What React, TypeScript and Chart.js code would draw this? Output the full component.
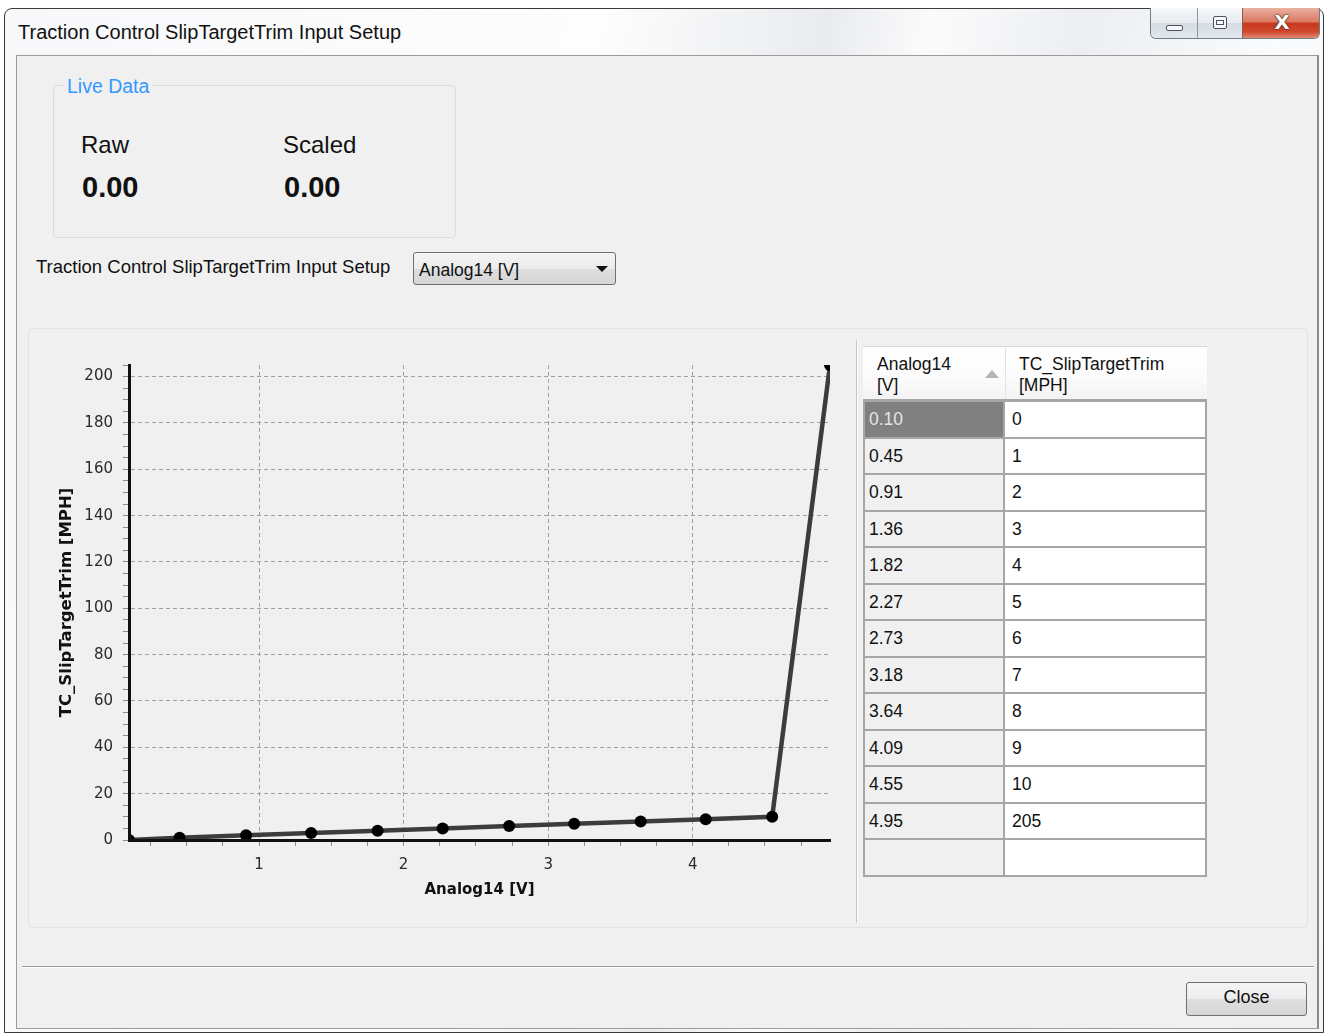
import React, { useEffect, useRef } from "react";
import { Chart, registerables } from "chart.js";

Chart.register(...registerables);

// ---- data ----
const analogVolts = [0.1, 0.45, 0.91, 1.36, 1.82, 2.27, 2.73, 3.18, 3.64, 4.09, 4.55, 4.95];
const slipTrimMph = [0, 1, 2, 3, 4, 5, 6, 7, 8, 9, 10, 205];
const yMin = 0;
const yMax = 205;
const yMinorStep = 5;
const yMajorStep = 20;
const xMin = 0.1;
const xMax = 4.95;
const xMinorStep = 0.25;
const xMajorStep = 1;
const xTitle = "Analog14 [V]";
const yTitle = "TC_SlipTargetTrim [MPH]";
const headerCol1 = ["Analog14", "[V]"];
const headerCol2 = ["TC_SlipTargetTrim", "[MPH]"];
const rawValue = "0.00";
const scaledValue = "0.00";

const UI = '"Liberation Sans", Arial, sans-serif';
const CH = '"DejaVu Sans", Verdana, sans-serif';

type TxtProps = {
  x: number;
  cy: number;
  size: number;
  bold?: boolean;
  color?: string;
  family?: string;
  w?: number;
  align?: "left" | "center" | "right";
  children: React.ReactNode;
};

function Txt({ x, cy, size, bold, color, family, w, align, children }: TxtProps) {
  return (
    <div
      style={{
        position: "absolute",
        left: x,
        top: cy - size * 0.59,
        width: w,
        textAlign: align || "left",
        fontFamily: family || UI,
        fontSize: size,
        lineHeight: `${size * 1.2}px`,
        fontWeight: bold ? "bold" : "normal",
        color: color || "#111",
        whiteSpace: "nowrap",
      }}
    >
      {children}
    </div>
  );
}

function Box(props: { l: number; t: number; w: number; h: number; style?: React.CSSProperties; children?: React.ReactNode }) {
  return (
    <div
      style={{
        position: "absolute",
        left: props.l,
        top: props.t,
        width: props.w,
        height: props.h,
        boxSizing: "border-box",
        ...props.style,
      }}
    >
      {props.children}
    </div>
  );
}

function TractionChart() {
  const ref = useRef<HTMLCanvasElement | null>(null);
  useEffect(() => {
    if (!ref.current) return;
    const isMultiple = (v: number, step: number) => Math.abs(v / step - Math.round(v / step)) < 1e-6;
    const chart = new Chart(ref.current, {
      type: "line",
      data: {
        datasets: [
          {
            data: analogVolts.map((x, i) => ({ x, y: slipTrimMph[i] })),
            borderColor: "#3c3c3c",
            borderWidth: 4.5,
            backgroundColor: "#000",
            pointBackgroundColor: "#000",
            pointBorderWidth: 0,
            pointRadius: 6,
            tension: 0,
            clip: 0,
          },
        ],
      },
      options: {
        animation: false,
        responsive: false,
        devicePixelRatio: 1,
        layout: { padding: { top: 25, right: 10, left: 0, bottom: 0 } },
        plugins: { legend: { display: false }, tooltip: { enabled: false } },
        scales: {
          x: {
            type: "linear",
            min: xMin,
            max: xMax,
            afterFit: (s: any) => {
              s.height = 80;
            },
            ticks: {
              stepSize: xMinorStep,
              includeBounds: false,
              autoSkip: false,
              maxRotation: 0,
              padding: 10,
              color: "#2a2a2a",
              font: { family: CH, size: 15 },
              callback: (v: any) => (isMultiple(Number(v), xMajorStep) ? String(Math.round(Number(v))) : ""),
            },
            grid: {
              color: (c: any) => (c.tick && isMultiple(c.tick.value, xMajorStep) ? "#a0a0a0" : "rgba(0,0,0,0)"),
              tickColor: "#8a8a8a",
              tickLength: 6,
              lineWidth: 1,
            },
            border: { display: true, color: "#111", width: 3, dash: [4, 3], z: 1 },
            title: {
              display: true,
              text: xTitle,
              color: "#111",
              font: { family: CH, size: 15, weight: "bold" },
              padding: { top: 0, bottom: 21 },
            },
          },
          y: {
            type: "linear",
            min: yMin,
            max: yMax,
            afterFit: (s: any) => {
              s.width = 89;
            },
            ticks: {
              stepSize: yMinorStep,
              includeBounds: false,
              autoSkip: false,
              padding: 10,
              color: "#2a2a2a",
              font: { family: CH, size: 15, lineHeight: 1.0 },
              callback: (v: any) => (isMultiple(Number(v), yMajorStep) ? String(Math.round(Number(v))) : ""),
            },
            grid: {
              color: (c: any) =>
                c.tick && isMultiple(c.tick.value, yMajorStep) && c.tick.value !== 0 ? "#a0a0a0" : "rgba(0,0,0,0)",
              tickColor: "#8a8a8a",
              tickLength: 6,
              lineWidth: 1,
            },
            border: { display: true, color: "#111", width: 3, dash: [4, 3], z: 1 },
            title: {
              display: true,
              text: yTitle,
              color: "#111",
              font: { family: CH, size: 16.5, weight: "bold" },
              padding: { top: 17, bottom: 0 },
            },
          },
        },
      } as any,
    });
    return () => chart.destroy();
  }, []);
  return (
    <canvas
      ref={ref}
      width={800}
      height={580}
      style={{ position: "absolute", left: 40, top: 340, width: 800, height: 580 }}
    />
  );
}

function DataTable() {
  const left = 863;
  const c1 = 142;
  const c2 = 202;
  const top = 400;
  const rowH = 36.5;
  const rows = analogVolts.map((v, i) => [v.toFixed(2), String(slipTrimMph[i])]);
  rows.push(["", ""]);
  const line = "#a6a6a6";
  return (
    <>
      {/* header */}
      <Box
        l={left}
        t={346}
        w={c1 + c2}
        h={55}
        style={{
          background: "linear-gradient(#ffffff, #fbfbfb 60%, #f3f3f3)",
          borderTop: "1px solid #d8d8d8",
          borderBottom: `2px solid ${line}`,
        }}
      />
      <Box l={left + c1} t={347} w={1} h={52} style={{ background: "#e2e2e2" }} />
      <Txt x={877} cy={364} size={17.5}>{headerCol1[0]}</Txt>
      <Txt x={877} cy={385} size={17.5}>{headerCol1[1]}</Txt>
      <Txt x={1019} cy={364} size={17.5}>{headerCol2[0]}</Txt>
      <Txt x={1019} cy={385} size={17.5}>{headerCol2[1]}</Txt>
      <div
        style={{
          position: "absolute",
          left: 985,
          top: 370,
          width: 0,
          height: 0,
          borderLeft: "7px solid transparent",
          borderRight: "7px solid transparent",
          borderBottom: "8px solid #b4b4b4",
        }}
      />
      {rows.map((r, i) => {
        const t = top + i * rowH;
        const sel = i === 0;
        return (
          <React.Fragment key={i}>
            <Box
              l={left}
              t={t}
              w={c1}
              h={rowH + 2}
              style={{
                background: sel ? "#808080" : "#f0f0f0",
                border: `2px solid ${line}`,
              }}
            />
            <Box
              l={left + c1}
              t={t}
              w={c2}
              h={rowH + 2}
              style={{ background: "#ffffff", border: `2px solid ${line}`, borderLeft: "none" }}
            />
            <Txt x={869} cy={t + 19.5} size={17.5} color={sel ? "#e4e4e4" : "#111"}>
              {r[0]}
            </Txt>
            <Txt x={1012} cy={t + 19.5} size={17.5}>
              {r[1]}
            </Txt>
          </React.Fragment>
        );
      })}
    </>
  );
}

export default function App() {
  return (
    <div
      style={{
        position: "absolute",
        left: 0,
        top: 0,
        width: 1328,
        height: 1036,
        background: "#ffffff",
        overflow: "hidden",
        fontFamily: UI,
      }}
    >
      {/* window frame */}
      <Box
        l={4}
        t={8}
        w={1320}
        h={1025}
        style={{
          border: "1px solid #3a3a3a",
          borderRadius: "8px 8px 0 0",
          background:
            "linear-gradient(100deg, #f7f8fa 0%, #fdfdfd 40%, #e9ebee 55%, #fbfbfc 62%, #eceef1 72%, #fafbfc 85%, #f3f4f6 100%)",
        }}
      />
      <Txt x={18} cy={32} size={20} color="#111">
        Traction Control SlipTargetTrim Input Setup
      </Txt>

      {/* caption buttons */}
      <Box
        l={1150}
        t={8}
        w={170}
        h={31}
        style={{ border: "1px solid #6f7c8c", borderTop: "none", borderRadius: "0 0 6px 6px", overflow: "hidden" }}
      >
        <div
          style={{
            position: "absolute",
            left: 0,
            top: 0,
            width: 46,
            height: 30,
            background: "linear-gradient(#f6f8fa, #e6eaee 50%, #d5dbe2 51%, #e3e8ee)",
            borderRight: "1px solid #8d98a6",
          }}
        />
        <div
          style={{
            position: "absolute",
            left: 47,
            top: 0,
            width: 44,
            height: 30,
            background: "linear-gradient(#f6f8fa, #e6eaee 50%, #d5dbe2 51%, #e3e8ee)",
            borderRight: "1px solid #8d5a50",
          }}
        />
        <div
          style={{
            position: "absolute",
            left: 92,
            top: 0,
            width: 78,
            height: 30,
            background: "linear-gradient(#eab0a2, #dc7a62 45%, #c8381e 52%, #cf4a2e 80%, #e58a70)",
          }}
        />
        <div
          style={{
            position: "absolute",
            left: 15,
            top: 17,
            width: 17,
            height: 6,
            border: "1px solid #4c5561",
            borderRadius: 2,
            background: "#f5f7fa",
            boxSizing: "border-box",
          }}
        />
        <div
          style={{
            position: "absolute",
            left: 62,
            top: 8,
            width: 14,
            height: 13,
            border: "1px solid #4c5561",
            borderRadius: 2,
            background: "#f5f7fa",
            boxSizing: "border-box",
          }}
        >
          <div
            style={{
              position: "absolute",
              left: 2,
              top: 3,
              width: 8,
              height: 5,
              border: "1px solid #4c5561",
              boxSizing: "border-box",
            }}
          />
        </div>
        <div
          style={{
            position: "absolute",
            left: 92,
            top: 1,
            width: 78,
            height: 28,
            textAlign: "center",
            fontFamily: '"DejaVu Sans", sans-serif',
            fontWeight: "bold",
            fontSize: 20,
            lineHeight: "26px",
            color: "#ffffff",
            textShadow: "0 0 1px #3a1a14, 0 0 1px #3a1a14, 0 0 2px #5a2a20",
          }}
        >
          X
        </div>
      </Box>

      {/* client area */}
      <Box
        l={16}
        t={55}
        w={1303}
        h={974}
        style={{ background: "#f0f0f0", border: "1px solid #9c9c9c", borderRight: "2px solid #8a8a8a" }}
      />

      {/* live data group */}
      <Box l={53} t={85} w={403} h={153} style={{ border: "1px solid #d6dee6", borderRadius: 4 }} />
      <div
        style={{
          position: "absolute",
          left: 64,
          top: 74,
          padding: "0 3px",
          background: "#f0f0f0",
          fontFamily: UI,
          fontSize: 19.5,
          lineHeight: "24px",
          color: "#3399ff",
        }}
      >
        Live Data
      </div>
      <Txt x={81} cy={145} size={24}>
        Raw
      </Txt>
      <Txt x={283} cy={145} size={24}>
        Scaled
      </Txt>
      <Txt x={82} cy={187} size={29} bold>
        {rawValue}
      </Txt>
      <Txt x={284} cy={187} size={29} bold>
        {scaledValue}
      </Txt>

      {/* input selector */}
      <Txt x={36} cy={267} size={18.5}>
        Traction Control SlipTargetTrim Input Setup
      </Txt>
      <Box
        l={413}
        t={252}
        w={203}
        h={33}
        style={{
          border: "1px solid #707070",
          borderRadius: 3,
          background: "linear-gradient(#f4f4f4, #ececec 50%, #dedede 51%, #d6d6d6)",
        }}
      />
      <Txt x={419} cy={270} size={17.5}>
        Analog14 [V]
      </Txt>
      <div
        style={{
          position: "absolute",
          left: 596,
          top: 266,
          width: 0,
          height: 0,
          borderLeft: "6px solid transparent",
          borderRight: "6px solid transparent",
          borderTop: "6px solid #111",
        }}
      />

      {/* chart panel */}
      <Box l={28} t={328} w={1280} h={600} style={{ border: "1px solid #dfe4ea", borderRadius: 3 }} />
      <Box l={856} t={340} w={1} h={583} style={{ background: "#b6c6d6" }} />
      <Box l={857} t={340} w={1} h={583} style={{ background: "#ffffff" }} />

      <TractionChart />
      <DataTable />

      {/* bottom separator and close */}
      <Box l={22} t={966} w={1292} h={1} style={{ background: "#9a9a9a" }} />
      <Box l={22} t={967} w={1292} h={1} style={{ background: "#ffffff" }} />
      <Box
        l={1186}
        t={982}
        w={121}
        h={34}
        style={{
          border: "1px solid #707070",
          borderRadius: 3,
          background: "linear-gradient(#f4f4f4, #ececec 50%, #dedede 51%, #d6d6d6)",
        }}
      />
      <Txt x={1186} w={121} align="center" cy={998} size={18}>
        Close
      </Txt>
    </div>
  );
}
